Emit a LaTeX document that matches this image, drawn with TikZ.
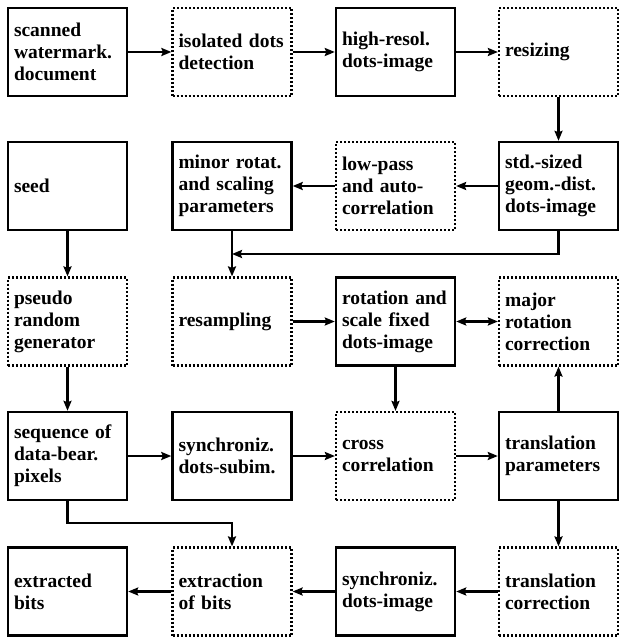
\documentclass[tikz,border=0pt]{standalone}
\usepackage{fontspec}
\setmainfont{Liberation Serif}[BoldFont={Liberation Serif Bold}]
\usetikzlibrary{arrows.meta}
\begin{document}
\begin{tikzpicture}[x=1pt,y=-1pt,
  box/.style={minimum width=119pt, minimum height=88pt, text width=107pt,
    inner xsep=6pt, inner ysep=0pt, align=left,
    font=\fontsize{19.5}{22}\selectfont\bfseries},
  solidbox/.style={box, draw, line width=2.4pt},
  dotbox/.style={box, draw, line width=2.2pt, dash pattern=on 2pt off 2pt},
  arr/.style={line width=2.2pt, -{Stealth[length=10pt,width=8pt,inset=1.5pt]}},
  arrboth/.style={line width=2.2pt, {Stealth[length=10pt,width=8pt,inset=1.5pt]}-{Stealth[length=10pt,width=8pt,inset=1.5pt]}}]
\fill[white] (0,0) rectangle (619,639);
\useasboundingbox (0,0) rectangle (619,639);
% row 1
\node[solidbox] (scan) at (67.5,52) {scanned\\watermark.\\document};
\node[dotbox]   (iso)  at (232,52) {isolated dots\\detection};
\node[solidbox] (high) at (395.5,52) {high-resol.\\dots-image};
\node[dotbox]   (resz) at (558.5,52) {resizing};
% row 2
\node[solidbox] (seed)  at (67.5,186) {seed};
\node[solidbox] (minor) at (232,186) {minor rotat.\\and scaling\\parameters};
\node[dotbox]   (low)   at (395.5,186) {low-pass\\and auto-\\correlation};
\node[solidbox] (std)   at (558.5,186) {std.-sized\\geom.-dist.\\dots-image};
% row 3
\node[dotbox]   (pseudo) at (67.5,321.5) {pseudo\\random\\generator};
\node[dotbox]   (resamp) at (232,321.5) {resampling};
\node[solidbox] (rot)    at (395.5,321.5) {rotation and\\scale fixed\\dots-image};
\node[dotbox]   (major)  at (558.5,321.5) {major\\rotation\\correction};
% row 4
\node[solidbox] (seq)   at (67.5,456) {sequence of\\data-bear.\\pixels};
\node[solidbox] (sync1) at (232,456) {synchroniz.\\dots-subim.};
\node[dotbox]   (cross) at (395.5,456) {cross\\correlation};
\node[solidbox] (trans) at (558.5,456) {translation\\parameters};
% row 5
\node[solidbox] (bits)  at (67.5,591.5) {extracted\\bits};
\node[dotbox]   (extr)  at (232,591.5) {extraction\\of bits};
\node[solidbox] (sync2) at (395.5,591.5) {synchroniz.\\dots-image};
\node[dotbox]   (tcorr) at (558.5,591.5) {translation\\correction};
% connectors
\coordinate (j1) at (232,254);
\coordinate (j2) at (67.5,523);
\draw[arr] (scan) -- (iso);
\draw[arr] (iso) -- (high);
\draw[arr] (high) -- (resz);
\draw[arr] (resz) -- (std);
\draw[arr] (std) -- (low);
\draw[arr] (low) -- (minor);
\draw[arr] (std.south) |- (j1);
\draw[arr] (minor) -- (resamp);
\draw[arr] (seed) -- (pseudo);
\draw[arr] (pseudo) -- (seq);
\draw[arr] (resamp) -- (rot);
\draw[arrboth] (rot) -- (major);
\draw[arr] (rot) -- (cross);
\draw[arr] (trans) -- (major);
\draw[arr] (seq) -- (sync1);
\draw[arr] (sync1) -- (cross);
\draw[arr] (cross) -- (trans);
\draw[arr] (seq.south) -- (j2) -| (extr.north);
\draw[arr] (trans) -- (tcorr);
\draw[arr] (tcorr) -- (sync2);
\draw[arr] (sync2) -- (extr);
\draw[arr] (extr) -- (bits);
\end{tikzpicture}
\end{document}
